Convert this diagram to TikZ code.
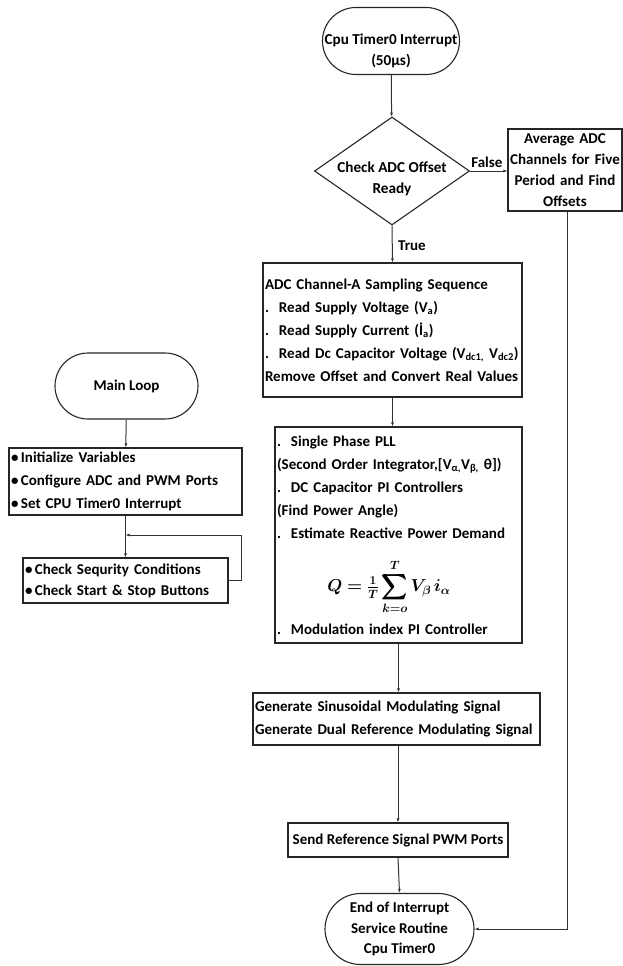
\documentclass[tikz,border=0pt]{standalone}
\usepackage[no-math]{fontspec}
\setmainfont{Carlito}
\usepackage{amsmath,bm}
\usetikzlibrary{shapes.misc,shapes.geometric,arrows.meta}
\newcommand{\qformula}{$\displaystyle \bm{Q =\tfrac{1}{T}\sum_{k=o}^{T} V_{\beta}\, i_{\alpha}}$}
\tikzset{
  base/.style={draw=black!85, line width=1.1pt, font=\bfseries\fontsize{15}{23}\selectfont, inner sep=2pt},
  term/.style={base, rounded rectangle, align=center, font=\bfseries\fontsize{15}{20.5}\selectfont},
  procbox/.style={base, rectangle, align=left},
  cbox/.style={base, rectangle, align=center},
  dec/.style={base, diamond, align=center},
  txt/.style={align=center, inner sep=0pt, font=\bfseries\fontsize{15.2}{21}\selectfont},
  frm/.style={inner sep=0pt, font=\fontsize{17}{20}\selectfont},
  arr/.style={draw=black!80, line width=1pt, -{Latex[length=4pt,width=3pt]}},
  lbl/.style={font=\bfseries\fontsize{15}{16}\selectfont}
}
\begin{document}
\begin{tikzpicture}[x=1pt,y=-1pt]
\useasboundingbox (0,0) rectangle (622,966);
\fill[white] (0,0) rectangle (622,966);

\node[term, minimum width=141pt, minimum height=67pt] (start) at (391,41) {};
\node[txt] (startt) at (391,51) {Cpu Timer0 Interrupt\\(50µs)};
\node[dec, minimum width=155pt, minimum height=108pt, inner sep=0pt] (chk) at (392,171) {};
\node[txt] (chkt) at (392,179) {Check ADC Offset\\Ready};
\node[cbox, minimum width=114pt, minimum height=82pt, text width=112pt, inner sep=0pt, font=\bfseries\fontsize{15}{21}\selectfont] (avg) at (565,170) {Average ADC\\Channels for Five\\Period and Find\\Offsets};

\node[procbox, minimum width=259pt, minimum height=134pt, text width=255pt] (adc) at (392.5,330) {ADC Channel-A Sampling Sequence\\
.\ \ Read Supply Voltage (V\textsubscript{a})\\
.\ \ Read Supply Current (İ\textsubscript{a})\\
.\ \ Read Dc Capacitor Voltage (V\textsubscript{dc1,} V\textsubscript{dc2})\\
Remove Offset and Convert Real Values};

\node[procbox, minimum width=247pt, minimum height=216pt, text width=243pt] (pll) at (398.5,535) {.\ \ Single Phase PLL\\
(Second Order Integrator,[V\textsubscript{α,}V\textsubscript{β,} θ])\\
.\ \ DC Capacitor PI Controllers\\
(Find Power Angle)\\
.\ \ Estimate Reactive Power Demand\\[73pt]
.\ \ Modulation index PI Controller};
\node[frm] (qf) at (389,587) {\qformula};

\node[procbox, minimum width=287pt, minimum height=52pt, text width=283pt] (gen) at (396.5,719) {Generate Sinusoidal Modulating Signal\\Generate Dual Reference Modulating Signal};
\node[cbox, minimum width=220pt, minimum height=34pt] (send) at (398,840) {Send Reference Signal PWM Ports};
\node[term, minimum width=153pt, minimum height=71pt] (end) at (399.5,929) {End of Interrupt\\Service Routine\\Cpu Timer0};

\node[term, minimum width=147pt, minimum height=66pt] (main) at (126.5,386) {Main Loop};
\node[procbox, minimum width=233pt, minimum height=67pt, text width=229pt] (init) at (125.5,481.5) {•\,Initialize Variables\\•\,Configure ADC and PWM Ports\\•\,Set CPU Timer0 Interrupt};
\node[procbox, minimum width=205pt, minimum height=45pt, text width=201pt, font=\bfseries\fontsize{15}{21}\selectfont] (check) at (125.5,580.5) {•\,Check Sequrity Conditions\\•\,Check Start \& Stop Buttons};
\coordinate (loopj) at (125.5,535);

\draw[arr] (start) -- (chk);
\draw[arr] (chk) -- node[lbl, above, pos=0.45] {False} (avg.west |- chk.east);
\draw[arr] (chk.south) -- node[lbl, right, pos=0.55, xshift=2pt] {True} (adc.north);
\draw[arr] (adc.south) -- (adc.south |- pll.north);
\draw[arr] (pll.south) -- (pll.south |- gen.north);
\draw[arr] (gen.south -| send.north) -- (send.north);
\draw[arr] (send.south) -- (end.north);
\draw[arr] ([xshift=2pt]avg.south) |- (end.east);

\draw[arr] (main) -- (init);
\draw[arr] (init) -- (check);
\draw[arr] (check.east) -- ++(13,0) |- (loopj);
\end{tikzpicture}
\end{document}
